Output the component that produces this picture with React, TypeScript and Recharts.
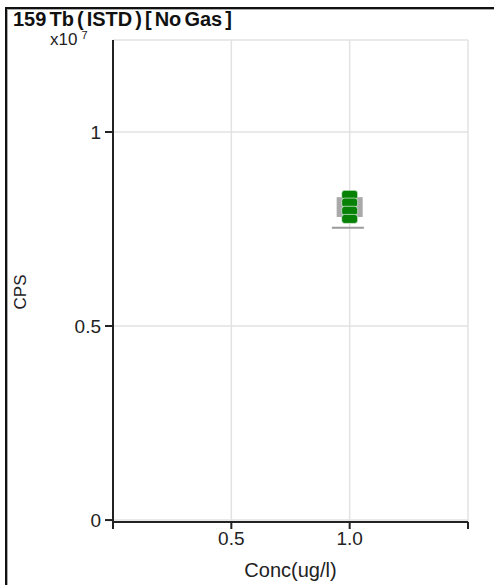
import React from 'react';
import {
  ScatterChart, Scatter, XAxis, YAxis, CartesianGrid, ReferenceArea, ReferenceLine,
} from 'recharts';

// Concentration (ug/l) and CPS (x10^7) of the ISTD replicate points
const concValues = [1.0, 1.0, 1.0, 1.0];
const cpsValues = [0.838, 0.818, 0.797, 0.776];
const xTicks = [0, 0.5, 1.0, 1.5];
const yTicks = [0, 0.5, 1];
const shownXTicks = [0.5, 1.0];
// summary box (mean range) and lower limit line
const boxX = [0.945, 1.055];
const boxY = [0.781, 0.832];
const limitX = [0.925, 1.06];
const limitY = 0.753;

const title = '159 Tb ( ISTD ) [ No Gas ]';
const xLabel = 'Conc(ug/l)';
const yLabel = 'CPS';

const data = concValues.map((c, i) => ({ x: c, y: cpsValues[i] }));

const FONT = '"Liberation Sans", Arial, sans-serif';

const Marker = (props: any) => {
  const { cx, cy } = props;
  if (cx == null || cy == null) return null;
  return <rect x={cx - 8} y={cy - 4.5} width={16} height={9} rx={3} ry={3} fill="#078207" stroke="#ffffff" strokeWidth={0.6} />;
};

export default function App() {
  return (
    <div style={{ position: 'absolute', left: 0, top: 0, width: 494, height: 585, background: '#fff', overflow: 'hidden' }}>
      <div style={{ position: 'absolute', left: 5, top: 7, width: 489, height: 578, borderLeft: '2px solid #111', borderTop: '2px solid #111', boxSizing: 'border-box' }} />
      <div style={{ position: 'absolute', left: 7, top: 9, width: 487, height: 576, borderLeft: '1px solid #aaa', borderTop: '1px solid #aaa', boxSizing: 'border-box' }} />
      <div style={{ position: 'absolute', left: 13, top: 9, fontFamily: FONT, fontWeight: 'bold', fontSize: 20, lineHeight: '20px', color: '#111', whiteSpace: 'pre', wordSpacing: -2.5 }}>{title}</div>
      <div style={{ position: 'absolute', left: 50, top: 31, fontFamily: FONT, fontSize: 17, lineHeight: '17px', color: '#222', whiteSpace: 'pre' }}>
        x10<span style={{ fontSize: 11, position: 'relative', top: -6, marginLeft: 4 }}>7</span>
      </div>
      <div style={{ position: 'absolute', left: 0, top: 0 }}>
        <ScatterChart width={494} height={585} margin={{ top: 40, right: 26, left: 53, bottom: 23 }}>
          <CartesianGrid stroke="#e2e2e2" strokeWidth={1.5} />
          <XAxis
            type="number"
            dataKey="x"
            domain={[0, 1.5]}
            ticks={xTicks}
            height={40}
            axisLine={{ stroke: '#222', strokeWidth: 2 }}
            tickLine={{ stroke: '#222', strokeWidth: 2 }}
            tickSize={7}
            tickMargin={3}
            tick={{ fill: '#222', fontSize: 19, fontFamily: FONT }}
            tickFormatter={(v: number) => (shownXTicks.includes(v) ? v.toFixed(1) : '')}
            allowDataOverflow
            label={{ value: xLabel, position: 'bottom', offset: 1, fill: '#222', fontSize: 20, fontFamily: FONT }}
          />
          <YAxis
            type="number"
            dataKey="y"
            domain={[-0.005, 1.237]}
            ticks={yTicks}
            width={60}
            axisLine={{ stroke: '#222', strokeWidth: 2 }}
            tickLine={{ stroke: '#222', strokeWidth: 2 }}
            tickSize={8}
            tickMargin={4}
            tick={{ fill: '#222', fontSize: 19, fontFamily: FONT }}
            tickFormatter={(v: number) => String(v)}
            allowDataOverflow
          />
          <ReferenceArea x1={boxX[0]} x2={boxX[1]} y1={boxY[0]} y2={boxY[1]} fill="#a9a9a9" fillOpacity={1} stroke="none" ifOverflow="visible" />
          <ReferenceLine segment={[{ x: limitX[0], y: limitY }, { x: limitX[1], y: limitY }]} stroke="#9a9a9a" strokeWidth={2} ifOverflow="visible" />
          <Scatter data={data} shape={<Marker />} isAnimationActive={false} />
        </ScatterChart>
      </div>
      <div style={{ position: 'absolute', left: 20, top: 292, transform: 'translate(-50%, -50%) rotate(-90deg)', fontFamily: FONT, fontSize: 17, lineHeight: '17px', color: '#222', whiteSpace: 'pre' }}>{yLabel}</div>
    </div>
  );
}
